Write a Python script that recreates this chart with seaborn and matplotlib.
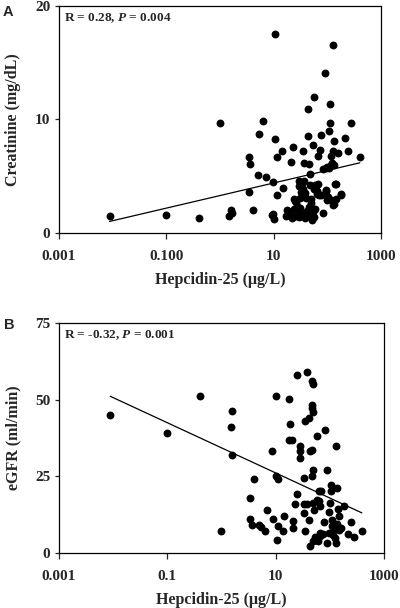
import numpy as np
import pandas as pd
import matplotlib
matplotlib.use("Agg")
import matplotlib.pyplot as plt
import seaborn as sns

# Panel A: hepcidin-25 (ug/L) vs creatinine (mg/dL)
hep_a = [0.0088, 0.1, 0.41, 0.99, 1.5, 1.6, 1.65,
         3.4, 3.6, 3.5, 4.2, 5.0, 5.4, 6.3, 7.2,
         9.6, 9.6, 10.2, 9.3, 10.6, 10.6, 11.4, 11.4,
         14.1, 15.1, 17, 18, 19, 20, 21, 22.6,
         23.8, 25.3, 27, 28, 29, 30, 31, 33,
         35, 36, 34, 35, 37, 39, 40, 44, 44, 45, 47, 47, 49, 51, 51, 48, 53, 50,
         54, 56, 59, 62, 64, 66, 71, 74, 76, 81, 84, 89, 95, 98, 100,
         105, 110, 110, 108, 117, 122, 126, 127, 131, 131, 140, 145, 135, 155,
         180, 208, 240, 280, 400,
         22, 24, 26, 38, 42, 46, 55, 58, 92, 100, 115,
         56, 66, 65, 76, 95, 102, 117, 181, 142, 126,
         30, 29, 32, 31, 26]
creat_a = [1.5, 1.6, 1.3, 9.7, 1.45, 2.0, 1.75,
           6.65, 6.1, 3.6, 2.0, 5.1, 8.75, 9.85, 4.95,
           4.45, 1.7, 1.2, 1.6, 17.55, 8.3, 6.7, 3.35,
           7.25, 3.95, 1.5, 2.0, 1.6, 1.8, 6.25, 7.6,
           3.0, 2.8, 2.4, 1.6, 1.9, 1.4, 2.2, 1.7,
           7.2, 6.2, 4.4, 3.9, 4.6, 3.5, 3.1, 10.95, 8.5, 6.1, 5.15, 4.25, 2.95, 2.05, 1.15, 1.5, 1.8, 2.6,
           7.75, 11.95, 4.25, 3.8, 3.4, 6.75, 3.35, 7.35, 8.6, 1.75, 5.6, 14.1, 3.7, 3.2, 2.9,
           9.0, 9.65, 11.4, 5.7, 6.8, 6.2, 7.2, 16.55, 8.1, 2.55, 4.3, 3.0, 5.95, 7.05,
           3.4, 8.4, 7.25, 9.7, 6.7,
           1.3, 2.1, 1.5, 1.3, 1.9, 2.3, 1.4, 2.1, 5.7, 5.8, 6.0,
           3.9, 4.3, 3.67, 3.38, 3.8, 3.2, 2.94, 3.38, 4.35, 2.5,
           4.6, 4.1, 3.6, 3.1, 2.7]

# Panel B: hepcidin-25 (ug/L) vs eGFR (ml/min)
hep_b = [0.0089, 0.1, 0.4, 1.0, 1.5, 1.6, 1.6, 3.3, 3.3, 3.7, 4.0, 4.9, 5.4, 6.3, 6.9,
         8.6, 9.0, 10, 10, 11, 11, 10.8, 13.8, 14.5, 17.7, 17.7, 18.8, 20, 21.2, 21.2,
         24.5, 25.3, 23, 28, 28, 27.7, 33, 33, 34, 35.5, 35.5, 37.3, 38, 41, 41, 43,
         44, 46, 46, 46.5, 47, 47, 50, 48, 50, 50, 49, 52, 53, 54, 57, 59, 60, 62, 64,
         65, 67, 67, 70, 75, 77, 82, 90, 90, 95, 98, 100, 104, 104, 110, 112, 115, 120,
         124, 128, 130, 133, 138, 140, 145, 150, 160, 180, 220, 250, 275, 390]
egfr_b = [45.1, 39.1, 51.1, 7.1, 41.1, 46.2, 32.1, 18.0, 11.1, 9.2, 24.2, 9.2, 8.4, 7.1, 14.1,
          33.2, 11.2, 51.1, 25.2, 24.2, 8.9, 4.1, 7.1, 12.2, 50.2, 37.0, 42.2, 37.0, 10.3, 8.0,
          57.9, 19.2, 16.1, 34.8, 33.3, 31.0, 16.1, 24.5, 13.0, 43.0, 7.1, 58.9, 16.1, 44.0, 10.9, 2.4,
          33.2, 47.4, 48.3, 33.7, 25.0, 56.2, 55.2, 16.3, 3.9, 27.0, 45.9, 14.1, 5.2, 4.3, 38.2, 17.4, 3.8, 20.1, 16.8,
          15.2, 5.4, 6.5, 20.1, 6.3, 10.2, 40.2, 27.2, 3.3, 13.4, 6.5, 16.3, 22.3, 20.1, 10.7, 8.7, 6.0, 7.8,
          4.9, 3.3, 35.0, 9.6, 21.2, 14.3, 7.6, 12.0, 8.2, 15.2, 6.2, 10.0, 5.2, 7.1]

# regression lines (intercept, slope on log10 hepcidin)
fit_a = (3.29, 1.11)
fit_b = (34.3, -8.19)

stat_a = "R = 0.28, $\\mathit{P}$ = 0.004"
stat_b = "R = -0.32, $\\mathit{P}$ = 0.001"

xticks = [0.001, 0.1, 10, 1000]
xlabels_a = ["0.001", "0.100", "10", "1000"]
xlabels_b = ["0.001", "0.1", "10", "1000"]

sns.set_style("ticks")
plt.rcParams["font.family"] = ["Liberation Serif", "DejaVu Serif"]
plt.rcParams["font.weight"] = "bold"
plt.rcParams["mathtext.fontset"] = "custom"
plt.rcParams["mathtext.it"] = "Liberation Serif:italic:bold"
plt.rcParams["mathtext.rm"] = "Liberation Serif:bold"

fig = plt.figure(figsize=(4, 6.08), dpi=100)
ax1 = fig.add_axes([0.147, 0.617, 0.806, 0.373])
ax2 = fig.add_axes([0.147, 0.0905, 0.813, 0.3783])

df_a = pd.DataFrame({"hep": hep_a, "val": creat_a})
df_b = pd.DataFrame({"hep": hep_b, "val": egfr_b})

panels = [
    (ax1, df_a, fit_a, stat_a, xlabels_a, "Creatinine (mg/dL)", (0, 20), [0, 10, 20], "A", (-0.173, 1.004)),
    (ax2, df_b, fit_b, stat_b, xlabels_b, "eGFR (ml/min)", (0, 75), [0, 25, 50, 75], "B", (-0.167, 1.022)),
]

for ax, df, fit, stat, xlab, ylab, ylim, yticks, letter, lpos in panels:
    ax.set_xscale("log")
    sns.scatterplot(data=df, x="hep", y="val", ax=ax, color="black",
                    s=32, edgecolor="black", linewidth=0, zorder=3)
    xs = np.logspace(np.log10(df["hep"].min()), np.log10(df["hep"].max()), 50)
    line = pd.DataFrame({"hep": xs, "val": fit[0] + fit[1] * np.log10(xs)})
    sns.lineplot(data=line, x="hep", y="val", ax=ax, color="black", linewidth=0.9)
    ax.set_xlim(0.001, 1000)
    ax.set_ylim(*ylim)
    ax.set_xticks(xticks, xlab)
    ax.minorticks_off()
    ax.set_yticks(yticks)
    ax.tick_params(axis="x", length=4, width=0.9, pad=8, labelsize=11)
    ax.tick_params(axis="y", length=3, width=0.9, pad=3, labelsize=11)
    for sp in ax.spines.values():
        sp.set_linewidth(0.9)
        sp.set_color("black")
    ax.set_xlabel("Hepcidin-25 (\u03bcg/L)", fontsize=11.5, fontweight="bold", labelpad=7)
    ax.set_ylabel(ylab, fontsize=11.5, fontweight="bold", labelpad=10)
    ax.text(0.015, 0.975, stat, transform=ax.transAxes, fontsize=9.5,
            fontweight="bold", ha="left", va="top")
    ax.text(lpos[0], lpos[1], letter, transform=ax.transAxes, fontsize=10.5,
            fontweight="bold", family=["Liberation Sans", "DejaVu Sans"],
            ha="left", va="top")

fig.savefig("out.png", dpi=100)
